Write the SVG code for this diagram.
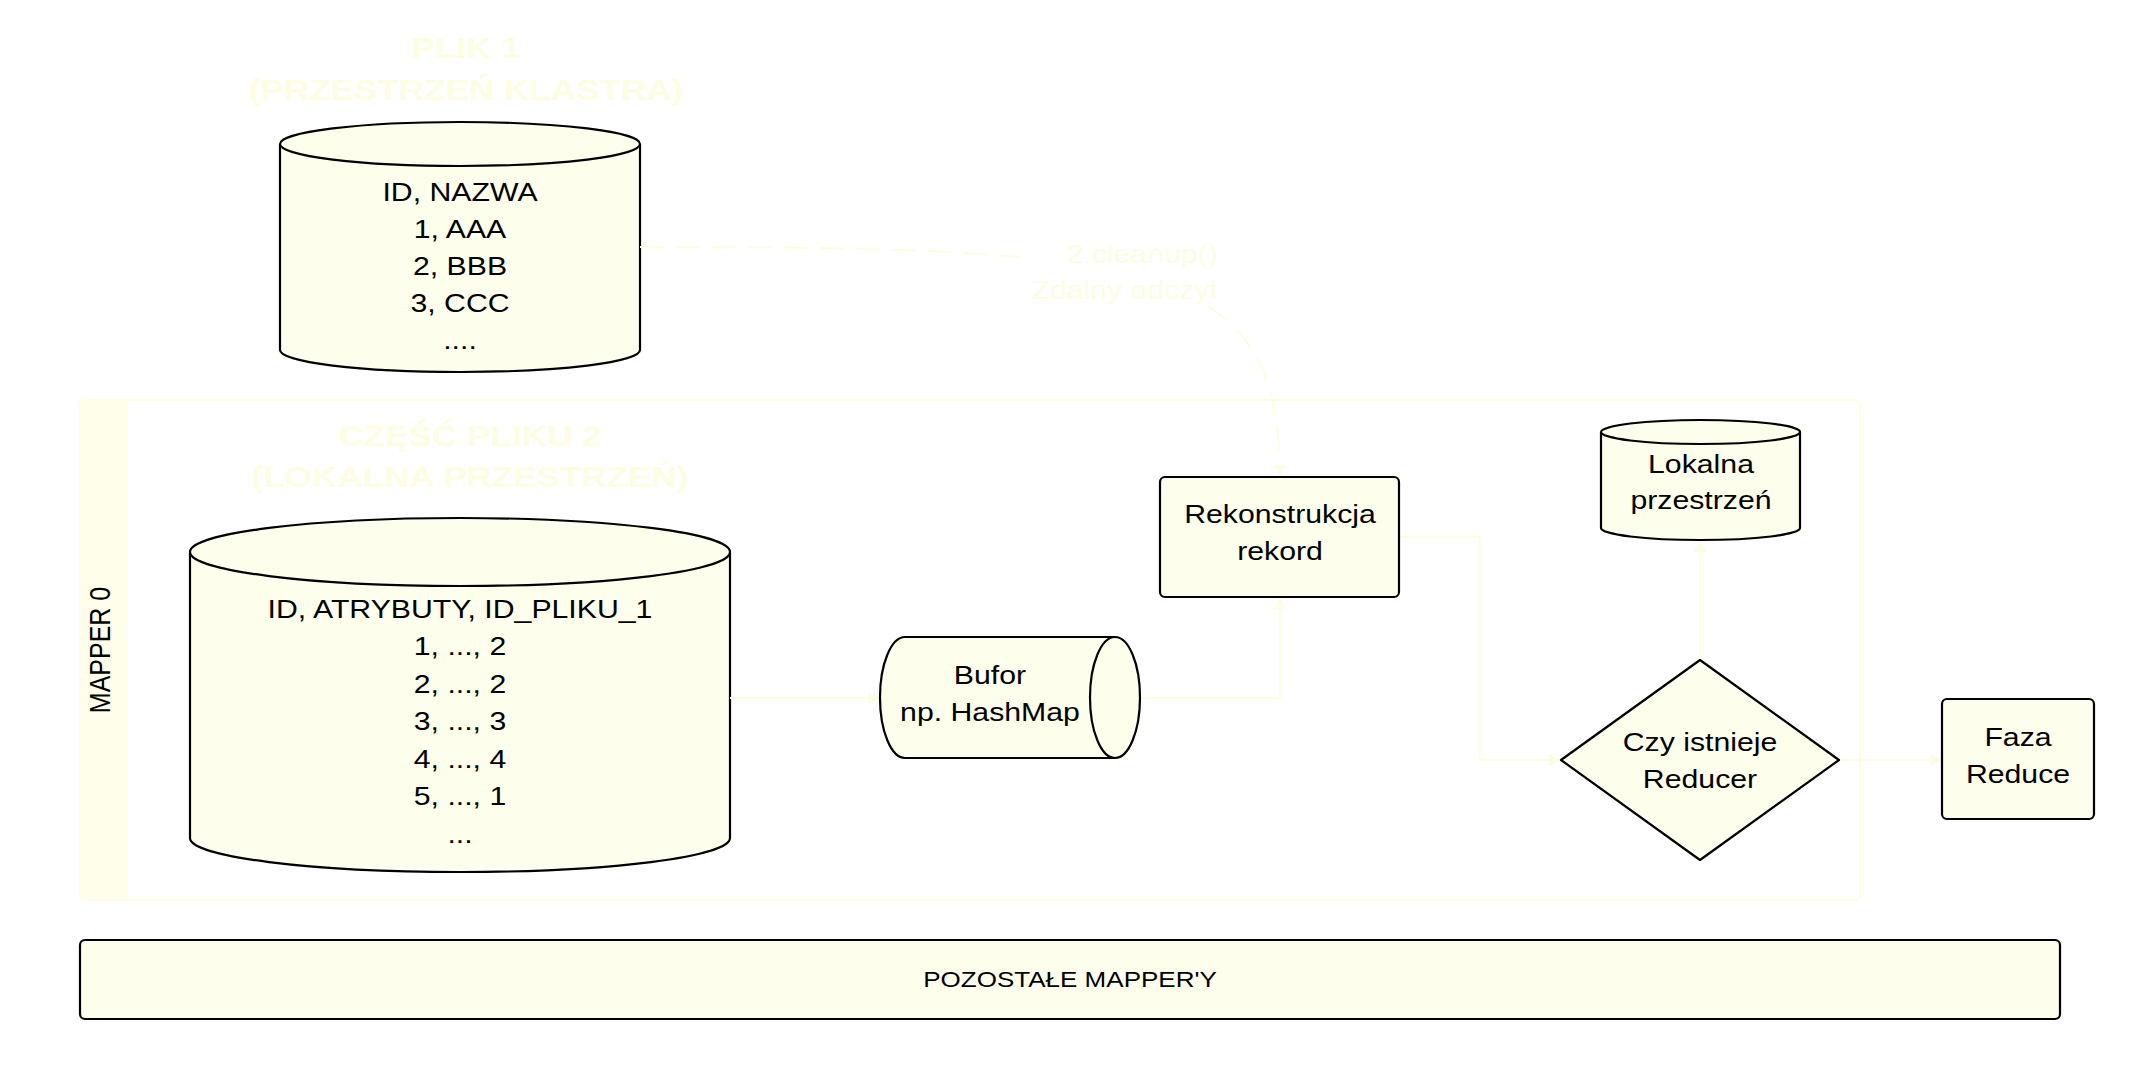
<svg xmlns="http://www.w3.org/2000/svg" width="2132" height="1074" viewBox="0 0 2132 1074">
<defs>
<style>
.node{fill:#fefeec;stroke:#000;stroke-width:2.2;stroke-linejoin:round}
.edge{fill:none;stroke:#fdfde3;stroke-width:2}
.t{font-family:"Liberation Sans",Arial,sans-serif;font-size:25px;fill:#000;text-anchor:middle}
.ft{font-family:"Liberation Sans",Arial,sans-serif;font-size:25px;fill:#fdfde3}
.title{font-family:"Liberation Sans",Arial,sans-serif;font-size:29px;font-weight:bold;fill:#fdfde2;text-anchor:middle}
</style>
<marker id="arr" viewBox="0 0 10 10" refX="10" refY="5" markerWidth="12" markerHeight="12" markerUnits="userSpaceOnUse" orient="auto">
<path d="M0,0 L10,5 L0,10 Z" fill="#fdfde3"/>
</marker>
</defs>
<rect width="2132" height="1074" fill="#fff"/>

<g id="mapper0">
<rect x="80" y="400" width="1780" height="500" rx="5" fill="#fff" stroke="#fdfde4" stroke-width="2"/>
<path d="M85 400 H128 V900 H85 A5 5 0 0 1 80 895 V405 A5 5 0 0 1 85 400 Z" fill="#fefeea"/>
<text class="t" transform="translate(110 650) scale(1.21 1) rotate(-90)" x="0" y="0">MAPPER 0</text>
</g>

<g id="plik1-title">
<text class="title" transform="translate(466 0) scale(1.21 1)"><tspan x="0" y="58">PLIK 1</tspan><tspan x="0" y="100">(PRZESTRZEŃ KLASTRA)</tspan></text>
</g>

<g id="plik1">
<path class="node" d="M280 144 A180 22 0 0 1 640 144 L640 350 A180 22 0 0 1 280 350 Z"/>
<path class="node" fill="none" d="M280 144 A180 22 0 0 0 640 144"/>
<text class="t" transform="translate(460 0) scale(1.21 1)"><tspan x="0" y="201">ID, NAZWA</tspan><tspan x="0" y="238">1, AAA</tspan><tspan x="0" y="275">2, BBB</tspan><tspan x="0" y="312">3, CCC</tspan><tspan x="0" y="349">....</tspan></text>
</g>

<g id="plik2-title">
<text class="title" transform="translate(470 0) scale(1.21 1)"><tspan x="0" y="446">CZĘŚĆ PLIKU 2</tspan><tspan x="0" y="487">(LOKALNA PRZESTRZEŃ)</tspan></text>
</g>

<g id="plik2">
<path class="node" d="M190 552 A270 34 0 0 1 730 552 L730 838 A270 34 0 0 1 190 838 Z"/>
<path class="node" fill="none" d="M190 552 A270 34 0 0 0 730 552"/>
<text class="t" transform="translate(460 0) scale(1.21 1)"><tspan x="0" y="618">ID, ATRYBUTY, ID_PLIKU_1</tspan><tspan x="0" y="655">1, ..., 2</tspan><tspan x="0" y="693">2, ..., 2</tspan><tspan x="0" y="730">3, ..., 3</tspan><tspan x="0" y="768">4, ..., 4</tspan><tspan x="0" y="805">5, ..., 1</tspan><tspan x="0" y="843">...</tspan></text>
</g>

<g id="connectors">
<path class="edge" stroke-dasharray="24 12" d="M640 247 C1150 247 1280 260 1280 477" marker-end="url(#arr)"/>
<path class="edge" d="M730 698 H880" marker-end="url(#arr)"/>
<path class="edge" d="M1140 698 H1280 V597" marker-end="url(#arr)"/>
<path class="edge" d="M1399 537 H1480 V760 H1561" marker-end="url(#arr)"/>
<path class="edge" d="M1700 660 V540" marker-end="url(#arr)"/>
<path class="edge" d="M1839 760 H1942" marker-end="url(#arr)"/>
<rect x="1020" y="232" width="204" height="74" fill="#fff"/>
<text class="ft" text-anchor="end" transform="translate(1218 0) scale(1.21 1)"><tspan x="0" y="263">2.cleanup()</tspan><tspan x="0" y="299">Zdalny odczyt</tspan></text>
</g>

<g id="bufor">
<path class="node" d="M905 637 L1115 637 A25 60.5 0 0 1 1115 758 L905 758 A25 60.5 0 0 1 905 637 Z"/>
<path class="node" fill="none" d="M1115 637 A25 60.5 0 0 0 1115 758"/>
<text class="t" transform="translate(990 0) scale(1.21 1)"><tspan x="0" y="684">Bufor</tspan><tspan x="0" y="721">np. HashMap</tspan></text>
</g>

<g id="rekonstrukcja">
<rect class="node" x="1160" y="477" width="239" height="120" rx="5"/>
<text class="t" transform="translate(1280 0) scale(1.21 1)"><tspan x="0" y="523">Rekonstrukcja</tspan><tspan x="0" y="560">rekord</tspan></text>
</g>

<g id="lokalna">
<path class="node" d="M1601 432 A99.5 12 0 0 1 1800 432 L1800 528 A99.5 12 0 0 1 1601 528 Z"/>
<path class="node" fill="none" d="M1601 432 A99.5 12 0 0 0 1800 432"/>
<text class="t" transform="translate(1701 0) scale(1.21 1)"><tspan x="0" y="473">Lokalna</tspan><tspan x="0" y="509">przestrzeń</tspan></text>
</g>

<g id="czy-reducer">
<path class="node" d="M1700 660 L1839 760 L1700 860 L1561 760 Z"/>
<text class="t" transform="translate(1700 0) scale(1.21 1)"><tspan x="0" y="751">Czy istnieje</tspan><tspan x="0" y="788">Reducer</tspan></text>
</g>

<g id="faza-reduce">
<rect class="node" x="1942" y="699" width="152" height="120" rx="5"/>
<text class="t" transform="translate(2018 0) scale(1.21 1)"><tspan x="0" y="746">Faza</tspan><tspan x="0" y="783">Reduce</tspan></text>
</g>

<g id="pozostale">
<rect class="node" x="80" y="940" width="1980" height="79" rx="5"/>
<text class="t" style="font-size:21.5px" transform="translate(1070 0) scale(1.21 1)" x="0" y="987">POZOSTAŁE MAPPER'Y</text>
</g>
</svg>
